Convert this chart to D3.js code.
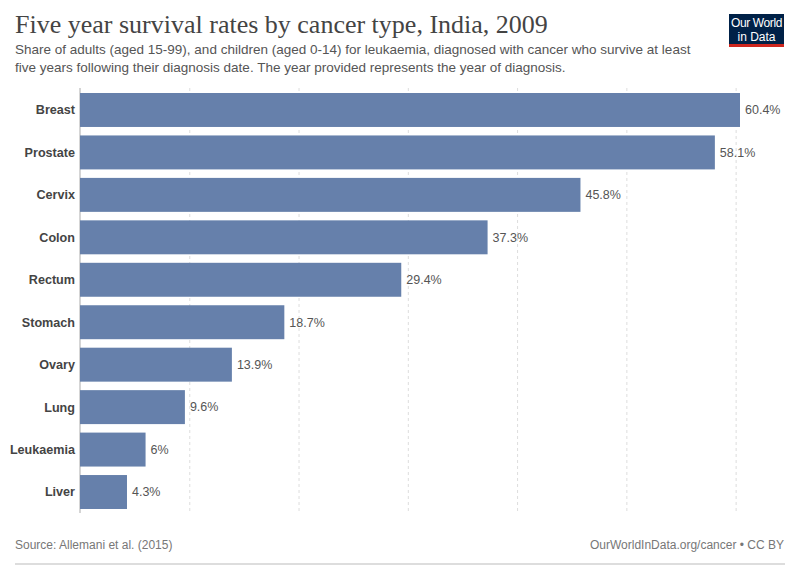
<!DOCTYPE html>
<html>
<head>
<meta charset="utf-8">
<script src="https://cdn.jsdelivr.net/npm/d3@7"></script>
<style>
  body { margin: 0; background: #fff; }
  svg { display: block; font-family: "Liberation Sans", Arial, sans-serif; }
  .grid line { stroke: #ddd; stroke-dasharray: 3,3; }
  .grid path { display: none; }
  .cat { font-size: 12.6px; font-weight: bold; fill: #444; }
  .val { font-size: 12.5px; fill: #555; }
</style>
</head>
<body>
<svg id="chart" width="800" height="565"></svg>
<script>
var categories = ["Breast", "Prostate", "Cervix", "Colon", "Rectum", "Stomach", "Ovary", "Lung", "Leukaemia", "Liver"];
var values = [60.4, 58.1, 45.8, 37.3, 29.4, 18.7, 13.9, 9.6, 6, 4.3];
var ticks = [0, 10, 20, 30, 40, 50, 60];

var svg = d3.select("#chart");

var xScale = d3.scaleLinear().domain([0, 60.4]).range([80, 740]);
var yScale = d3.scaleBand()
    .domain(categories)
    .range([93, 509])
    .paddingInner(0.2);

// Title block
svg.append("text")
    .attr("x", 15).attr("y", 33)
    .style("font-family", "'Liberation Serif', 'DejaVu Serif', serif")
    .style("font-size", "26px")
    .attr("fill", "#444")
    .text("Five year survival rates by cancer type, India, 2009");
svg.append("text")
    .attr("x", 15).attr("y", 54)
    .style("font-size", "13.5px").attr("fill", "#555")
    .text("Share of adults (aged 15-99), and children (aged 0-14) for leukaemia, diagnosed with cancer who survive at least");
svg.append("text")
    .attr("x", 15).attr("y", 72)
    .style("font-size", "13.5px").attr("fill", "#555")
    .text("five years following their diagnosis date. The year provided represents the year of diagnosis.");

// Logo
var logo = svg.append("g").attr("transform", "translate(729, 14)");
logo.append("rect").attr("width", 55).attr("height", 30).attr("fill", "#002147");
logo.append("rect").attr("y", 30).attr("width", 55).attr("height", 3).attr("fill", "#ce261e");
logo.append("text").attr("x", 27.5).attr("y", 13).attr("text-anchor", "middle")
    .attr("fill", "#fff").style("font-size", "12px").style("letter-spacing", "-0.4px").text("Our World");
logo.append("text").attr("x", 27.5).attr("y", 26.5).attr("text-anchor", "middle")
    .attr("fill", "#fff").style("font-size", "12px").text("in Data");

// Gridlines
svg.append("g")
    .attr("class", "grid")
    .attr("transform", "translate(0, 88)")
    .call(d3.axisBottom(xScale).tickValues(ticks.slice(1)).tickSize(425).tickFormat(""));

// Axis line at zero
svg.append("line")
    .attr("x1", xScale(0)).attr("x2", xScale(0))
    .attr("y1", 88).attr("y2", 513)
    .attr("stroke", "#aaa");

// Bars
svg.selectAll("rect.bar")
    .data(categories)
    .enter().append("rect")
    .attr("class", "bar")
    .attr("x", xScale(0))
    .attr("y", function(d) { return yScale(d); })
    .attr("width", function(d, i) { return xScale(values[i]) - xScale(0); })
    .attr("height", yScale.bandwidth())
    .attr("fill", "#6680ab");

// Category labels
svg.selectAll("text.cat")
    .data(categories)
    .enter().append("text")
    .attr("class", "cat")
    .attr("x", 75)
    .attr("y", function(d) { return yScale(d) + yScale.bandwidth() / 2; })
    .attr("dy", "0.35em")
    .attr("text-anchor", "end")
    .text(function(d) { return d; });

// Value labels
svg.selectAll("text.val")
    .data(categories)
    .enter().append("text")
    .attr("class", "val")
    .attr("x", function(d, i) { return xScale(values[i]) + 5; })
    .attr("y", function(d) { return yScale(d) + yScale.bandwidth() / 2; })
    .attr("dy", "0.35em")
    .text(function(d, i) { return values[i] + "%"; });

// Footer
svg.append("text")
    .attr("x", 15).attr("y", 549)
    .style("font-size", "12px").attr("fill", "#777")
    .text("Source: Allemani et al. (2015)");
svg.append("text")
    .attr("x", 784).attr("y", 549)
    .attr("text-anchor", "end")
    .style("font-size", "12px").attr("fill", "#777")
    .text("OurWorldInData.org/cancer • CC BY");
svg.append("line")
    .attr("x1", 15).attr("x2", 785)
    .attr("y1", 564).attr("y2", 564)
    .attr("stroke", "#bbb");
</script>
</body>
</html>
